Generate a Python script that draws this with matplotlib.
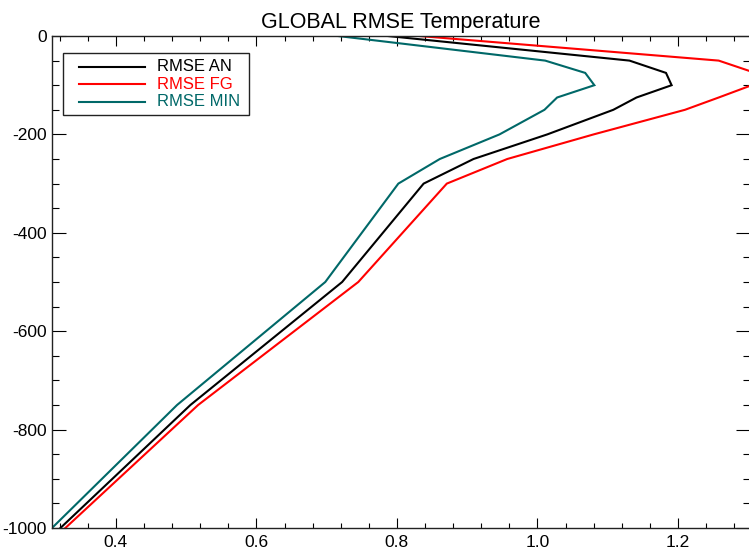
import matplotlib
matplotlib.use("Agg")
import matplotlib.pyplot as plt
from matplotlib.ticker import MultipleLocator, FixedLocator
from matplotlib.patches import Rectangle
from matplotlib.lines import Line2D

plt.rcParams['font.family'] = ['Liberation Sans', 'DejaVu Sans']

# Vertical levels and RMSE profiles
levels = [0, -50, -75, -100, -125, -150, -200, -250, -300, -500, -750, -1000]
rmse_an = [0.787, 1.131, 1.183, 1.191, 1.141, 1.108, 1.014, 0.909, 0.838, 0.722, 0.506, 0.321]
rmse_fg = [0.832, 1.258, 1.310, 1.305, 1.258, 1.210, 1.080, 0.957, 0.871, 0.745, 0.517, 0.328]
rmse_min = [0.716, 1.011, 1.068, 1.081, 1.028, 1.010, 0.946, 0.861, 0.802, 0.698, 0.487, 0.309]

series_names = ["RMSE AN", "RMSE FG", "RMSE MIN"]
series_colors = ["#000000", "#ff0000", "#006868"]
x_range = (0.309, 1.302)
x_major = [0.4, 0.6, 0.8, 1.0, 1.2]
y_major = [0, -200, -400, -600, -800, -1000]

W, H = 749, 554
fig = plt.figure(figsize=(W / 100, H / 100), dpi=100)
left, right, top, bottom = 52, 749.6, 36, 528
ax = fig.add_axes([left / W, 1 - bottom / H, (right - left) / W, (bottom - top) / H])

series = [rmse_an, rmse_fg, rmse_min]
for vals, col in zip(series, series_colors):
    ax.plot(vals, levels, color=col, lw=1.5, solid_joinstyle='miter')

ax.set_xlim(*x_range)
ax.set_ylim(-1000, 0)

ax.xaxis.set_major_locator(FixedLocator(x_major))
ax.xaxis.set_minor_locator(MultipleLocator(0.04))
ax.yaxis.set_major_locator(FixedLocator(y_major))
ax.yaxis.set_minor_locator(MultipleLocator(50))
ax.set_xticklabels([f"{v:.1f}" for v in x_major])
ax.set_yticklabels([str(v) for v in y_major])

ax.tick_params(axis='x', which='major', direction='in', length=7, width=0.8,
               top=True, bottom=True, labelsize=12.5, pad=5)
ax.tick_params(axis='x', which='minor', direction='in', length=3.6, width=0.8,
               top=True, bottom=True)
ax.tick_params(axis='y', which='major', direction='in', length=10, width=0.8,
               left=True, right=True, labelsize=12.5, pad=3.6)
ax.tick_params(axis='y', which='minor', direction='in', length=5, width=0.8,
               left=True, right=True)

for s in ax.spines.values():
    s.set_linewidth(1.0)
    s.set_color('#222222')

ax.set_title("GLOBAL RMSE Temperature", fontsize=15.5, pad=6)

# Legend box
ax.add_patch(Rectangle((0.0153, 0.8394), 0.2675, 0.1254, transform=ax.transAxes,
                       fill=True, facecolor='white', edgecolor='#222222', lw=1.0, zorder=5))
row_y = [0.9376, 0.9018, 0.8665]
for name, col, yy in zip(series_names, series_colors, row_y):
    ax.add_line(Line2D([0.0387, 0.1333], [yy, yy], transform=ax.transAxes,
                       color=col, lw=1.5, zorder=6))
    ax.text(0.1505, yy, name, transform=ax.transAxes, color=col, fontsize=12,
            va='center', ha='left', zorder=6)

fig.savefig("out.png", dpi=100)
